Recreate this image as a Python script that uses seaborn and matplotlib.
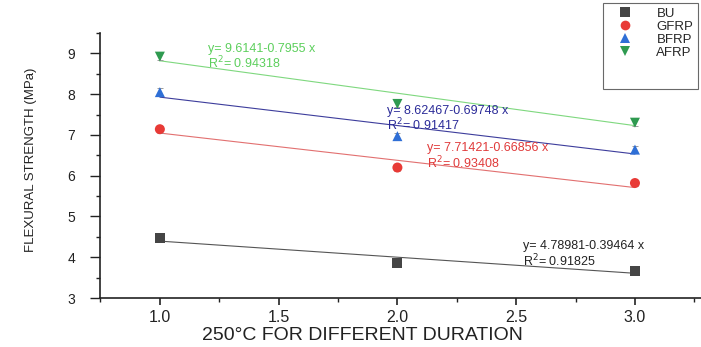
import numpy as np
import pandas as pd
import matplotlib
matplotlib.use("Agg")
import matplotlib.pyplot as plt
import seaborn as sns
from matplotlib.lines import Line2D
from matplotlib.ticker import MultipleLocator

# Duration levels (x) and measured flexural strength per specimen group
durations = [1.0, 2.0, 3.0]
groups = ["BU", "GFRP", "BFRP", "AFRP"]
bu = [4.46, 3.87, 3.66]
gfrp = [7.14, 6.20, 5.82]
bfrp = [8.05, 6.97, 6.64]
afrp = [8.92, 7.76, 7.30]
err = [0.09, 0.08, 0.08]

# Linear fit coefficients (intercept, slope) and R^2 reported for each group
intercepts = [4.78981, 7.71421, 8.62467, 9.6141]
slopes = [-0.39464, -0.66856, -0.69748, -0.7955]
r2 = [0.91825, 0.93408, 0.91417, 0.94318]
fit_labels = ["y= 4.78981-0.39464 x", "y= 7.71421-0.66856 x",
              "y= 8.62467-0.69748 x", "y= 9.6141-0.7955 x"]

sns.set_style("ticks")
plt.rcParams["font.family"] = ["Liberation Sans", "DejaVu Sans"]

marker_colors = ["#454545", "#e83a36", "#2f6fd6", "#2f9a50"]
line_colors = ["#555555", "#e27070", "#3d3d9c", "#7fd87f"]
text_colors = ["#222222", "#e03a3a", "#2b2b98", "#5ccf5c"]
markers = ["s", "o", "^", "v"]

values = [bu, gfrp, bfrp, afrp]
df = pd.DataFrame({
    "duration": np.tile(durations, len(groups)),
    "strength": np.concatenate(values),
    "group": np.repeat(groups, len(durations)),
})

fit_rows = []
for g, b0, b1 in zip(groups, intercepts, slopes):
    for d in durations:
        fit_rows.append({"duration": d, "strength": b0 + b1 * d, "group": g})
fit_df = pd.DataFrame(fit_rows)

fig = plt.figure(figsize=(7.01, 3.47), dpi=100)
ax = fig.add_axes([100 / 701, 49 / 347, 601 / 701, 265 / 347])

sns.lineplot(data=fit_df, x="duration", y="strength", hue="group",
             palette=dict(zip(groups, line_colors)), linewidth=0.8,
             legend=False, ax=ax, zorder=2)

for g, v, c in zip(groups, values, marker_colors):
    ax.errorbar(durations, v, yerr=err, fmt="none", ecolor="#9a9a9a",
                elinewidth=0.7, capsize=2.5, capthick=0.7, zorder=3)

sns.scatterplot(data=df, x="duration", y="strength", hue="group",
                style="group", palette=dict(zip(groups, marker_colors)),
                markers=dict(zip(groups, markers)), s=52, linewidth=0,
                legend=False, ax=ax, zorder=4)

# Fit equation annotations (data coordinates, centre of the two-line block)
label_pos = [(2.53, 4.065), (2.125, 6.465), (1.956, 7.395), (1.203, 8.915)]
for (x0, y0), txt, rr, col in zip(label_pos, fit_labels, r2, text_colors):
    ax.text(x0, y0, f"{txt}\nR$^2$= {rr}", color=col, fontsize=9,
            va="center", ha="left", linespacing=1.0)

ax.set_xlim(0.748, 3.278)
ax.set_ylim(3.0, 9.5)
ax.xaxis.set_major_locator(MultipleLocator(0.5))
ax.xaxis.set_minor_locator(MultipleLocator(0.25))
ax.yaxis.set_major_locator(MultipleLocator(1))
ax.yaxis.set_minor_locator(MultipleLocator(0.5))
ax.tick_params(axis="x", which="major", direction="out", length=5, width=1.2,
               labelsize=11.5, pad=4, colors="#222222")
ax.tick_params(axis="y", which="major", direction="out", length=7, width=1.0,
               labelsize=10, pad=11, colors="#222222")
ax.tick_params(which="minor", direction="out", length=3, width=1.0,
               colors="#222222")
for s in ["top", "right"]:
    ax.spines[s].set_visible(False)
for s in ["left", "bottom"]:
    ax.spines[s].set_linewidth(1.2)
    ax.spines[s].set_color("#222222")

ax.set_xlabel("250°C FOR DIFFERENT DURATION", fontsize=14, color="#222222")
ax.xaxis.set_label_coords((362 - 100) / 601, -(335 - 298) / 265)
ax.xaxis.label.set_va("center")
ax.set_ylabel("")
fig.text(31 / 701, 1 - 160 / 347, "FLEXURAL STRENGTH (MPa)", rotation=90,
         ha="center", va="center", fontsize=9.5, color="#222222")

handles = [Line2D([], [], linestyle="none", marker=m, color=c, markersize=7,
                  markeredgewidth=0)
           for m, c in zip(markers, marker_colors)]
labels = list(groups)
handles += [Line2D([], [], linestyle="none")] * 2
labels += [" ", " "]
leg = fig.legend(handles, labels, loc="upper left",
                 bbox_to_anchor=(603 / 701, 1 - 3 / 347),
                 bbox_transform=fig.transFigure, fontsize=9.5, frameon=True,
                 fancybox=False, edgecolor="#444444", borderpad=0.35,
                 labelspacing=0.05, handletextpad=1.1, handlelength=2.6,
                 borderaxespad=0)
leg.get_frame().set_linewidth(0.8)

fig.savefig("out.png", dpi=100)
